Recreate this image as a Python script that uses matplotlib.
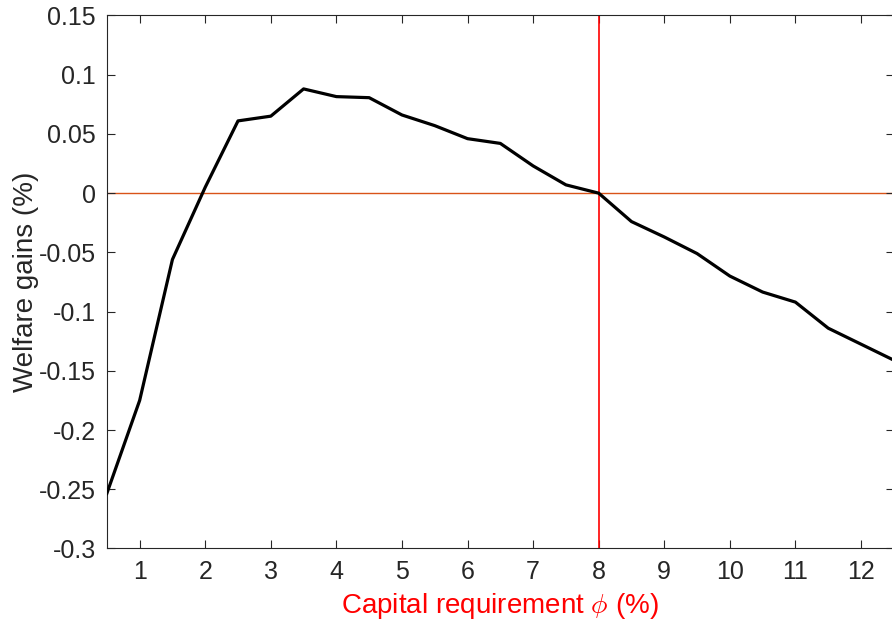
import matplotlib
matplotlib.use('Agg')
import matplotlib.pyplot as plt
import numpy as np

# Capital requirement grid (%) and welfare gains (%)
phi = np.arange(0.5, 12.51, 0.5)
welfare = [-0.2535, -0.175, -0.056, 0.005, 0.061, 0.065, 0.088, 0.0815, 0.0806,
           0.066, 0.057, 0.046, 0.042, 0.023, 0.007, 0.0, -0.024, -0.037,
           -0.051, -0.070, -0.0835, -0.092, -0.114, -0.1275, -0.141]
phi_ref = 8

plt.rcParams['font.family'] = ['Liberation Sans', 'DejaVu Sans']
plt.rcParams['mathtext.fontset'] = 'cm'

fig = plt.figure(figsize=(8.92, 6.19), dpi=100)
ax = fig.add_axes([0.1198, 0.1139, 0.8822, 0.8611])

ax.axhline(0, color='#D95319', lw=1.0, zorder=1)
ax.axvline(phi_ref, color='#FF0000', lw=1.2, zorder=2)
ax.plot(phi, welfare, color='black', lw=2.3, zorder=3)

ax.set_xlim(0.5, 12.5)
ax.set_ylim(-0.3, 0.15)
ax.set_xticks(np.arange(1, 13))
ax.set_yticks(np.arange(-0.3, 0.151, 0.05))
ax.set_yticklabels(['-0.3', '-0.25', '-0.2', '-0.15', '-0.1', '-0.05', '0',
                    '0.05', '0.1', '0.15'])

ax.tick_params(direction='in', length=6, width=0.8, top=True, right=True,
               labelsize=18, colors='#262626', pad=8)
for s in ax.spines.values():
    s.set_color('#262626')
    s.set_linewidth(0.8)

ax.set_xlabel(r'Capital requirement $\phi$ (%)', color='red', fontsize=20, labelpad=5)
ax.set_ylabel('Welfare gains (%)', color='#262626', fontsize=20, labelpad=0)

fig.savefig('out.png', dpi=100)
